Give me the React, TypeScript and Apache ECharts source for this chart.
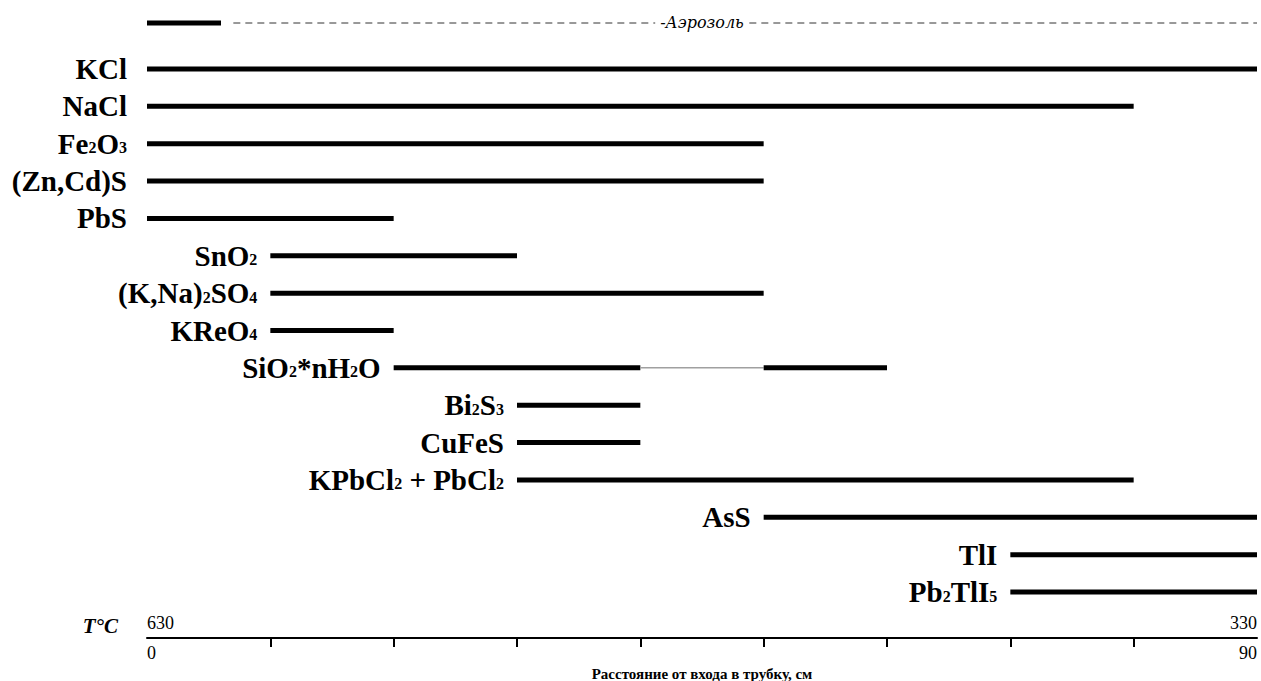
import React, { useEffect, useRef } from 'react';
import * as echarts from 'echarts';

const minerals = ['KCl', 'NaCl', 'Fe2O3', '(Zn,Cd)S', 'PbS', 'SnO2', '(K,Na)2SO4', 'KReO4', 'SiO2*nH2O', 'Bi2S3', 'CuFeS', 'KPbCl2 + PbCl2', 'AsS', 'TlI', 'Pb2TlI5'];
const mineralLabels = ['KCl', 'NaCl', 'Fe{s|2}O{s|3}', '(Zn,Cd)S', 'PbS', 'SnO{s|2}', '(K,Na){s|2}SO{s|4}', 'KReO{s|4}', 'SiO{s|2}*nH{s|2}O', 'Bi{s|2}S{s|3}', 'CuFeS', 'KPbCl{s|2} + PbCl{s|2}', 'AsS', 'TlI', 'Pb{s|2}TlI{s|5}'];
const startCm = [0, 0, 0, 0, 0, 10, 10, 10, 20, 30, 30, 30, 50, 70, 70];
const endCm = [90, 80, 50, 50, 20, 30, 50, 20, 60, 40, 40, 80, 90, 90, 90];
// weak (thin) interval inside a mineral range
const gapMineral = [8];
const gapStart = [40];
const gapEnd = [50];

const aerosolName = 'Аэрозоль';
const aerosolSolid = [0, 6];
const aerosolDashed = [7, 90];
const aerosolLabelAt = 45;

const distanceTicks = [10, 20, 30, 40, 50, 60, 70, 80];
const distanceLabels = [0, 90];
const temperatureLabels = [630, 330];
const axisTitle = 'Расстояние от входа в трубку, см';

const SERIF = '"Liberation Serif", "Times New Roman", serif';

export default function App() {
  const ref = useRef<HTMLDivElement>(null);
  useEffect(() => {
    if (!ref.current) return;
    const chart = echarts.init(ref.current, undefined, { renderer: 'svg' });

    const segments: number[][] = [];
    minerals.forEach((_, i) => {
      const g = gapMineral.indexOf(i);
      if (g >= 0) {
        segments.push([i, startCm[i], gapStart[g], 0, 1]);
        segments.push([i, gapStart[g], gapEnd[g], 1, 0]);
        segments.push([i, gapEnd[g], endCm[i], 0, 0]);
      } else {
        segments.push([i, startCm[i], endCm[i], 0, 1]);
      }
    });

    const aerosolData = [
      [0, aerosolSolid[0], aerosolSolid[1], 0],
      [0, aerosolDashed[0], aerosolDashed[1], 2],
      [0, aerosolLabelAt, aerosolLabelAt, 3],
    ];

    const option: any = {
      animation: false,
      backgroundColor: '#fff',
      grid: [
        { left: 147, right: 4, top: 11, height: 24, outerBoundsMode: 'none', containLabel: false },
        { left: 147, right: 4, top: 50.3, bottom: 70.3, outerBoundsMode: 'none', containLabel: false },
      ],
      xAxis: [
        { gridIndex: 0, type: 'value', min: 0, max: 90, show: false },
        {
          gridIndex: 1, type: 'value', min: 0, max: 90, position: 'bottom', offset: 27.3,
          splitLine: { show: false },
          axisLine: { show: true, lineStyle: { color: '#000', width: 2 } },
          axisTick: { show: true, customValues: distanceTicks, length: 9, lineStyle: { color: '#000', width: 2 } },
          axisLabel: {
            customValues: distanceLabels, margin: 6, color: '#000', fontSize: 18, fontFamily: SERIF,
            alignMinLabel: 'left', alignMaxLabel: 'right',
          },
          name: axisTitle, nameLocation: 'middle', nameGap: 24,
          nameTextStyle: { color: '#000', fontSize: 15, fontWeight: 'bold', fontFamily: SERIF },
        },
        {
          gridIndex: 1, type: 'value', min: 0, max: 90, position: 'bottom', offset: 27.3,
          splitLine: { show: false },
          axisLine: { show: false }, axisTick: { show: false },
          axisLabel: {
            inside: true, customValues: distanceLabels, margin: 6, color: '#000', fontSize: 18, fontFamily: SERIF,
            alignMinLabel: 'left', alignMaxLabel: 'right',
            formatter: (v: number) => String(temperatureLabels[distanceLabels.indexOf(v)]),
          },
        },
      ],
      yAxis: [
        { gridIndex: 0, type: 'category', data: [aerosolName], show: false },
        { gridIndex: 1, type: 'category', data: minerals, inverse: true, show: false },
      ],
      graphic: [
        {
          type: 'text', x: 118, y: 626,
          style: { text: 'T°C', align: 'right', verticalAlign: 'middle', fill: '#000', fontSize: 21, fontWeight: 'bold', fontStyle: 'italic', fontFamily: SERIF },
        },
      ],
      series: [
        {
          type: 'custom', xAxisIndex: 0, yAxisIndex: 0, clip: false,
          encode: { x: [1, 2], y: 0 },
          data: aerosolData,
          renderItem: (params: any, api: any) => {
            const s = api.value(1), e = api.value(2), kind = api.value(3);
            const p1 = api.coord([s, 0]);
            const p2 = api.coord([e, 0]);
            if (kind === 3) {
              return {
                type: 'text',
                style: {
                  text: '-' + aerosolName, x: p1[0], y: p1[1] - 1, align: 'center', verticalAlign: 'middle',
                  fill: '#000', fontSize: 16, fontStyle: 'italic', fontFamily: '"DejaVu Serif", serif',
                  backgroundColor: '#fff', padding: [0, 5],
                },
              };
            }
            return {
              type: 'line',
              shape: { x1: p1[0], y1: p1[1], x2: p2[0], y2: p2[1] },
              style: kind === 2
                ? { stroke: '#333', lineWidth: 1, lineDash: [7, 5] }
                : { stroke: '#000', lineWidth: 5 },
            };
          },
        },
        {
          type: 'custom', xAxisIndex: 1, yAxisIndex: 1, clip: false,
          encode: { x: [1, 2], y: 0 },
          data: segments,
          renderItem: (params: any, api: any) => {
            const row = api.value(0), s = api.value(1), e = api.value(2), kind = api.value(3), lab = api.value(4);
            const p1 = api.coord([s, row]);
            const p2 = api.coord([e, row]);
            const children: any[] = [
              {
                type: 'line',
                shape: { x1: p1[0], y1: p1[1], x2: p2[0], y2: p2[1] },
                style: kind ? { stroke: '#a0a0a0', lineWidth: 1.5 } : { stroke: '#000', lineWidth: 5 },
              },
            ];
            if (lab) {
              children.push({
                type: 'text',
                style: {
                  text: mineralLabels[row], x: p1[0] - (s === 0 ? 20 : 13), y: p1[1],
                  align: 'right', verticalAlign: 'middle', fill: '#000',
                  fontSize: 29, fontWeight: 'bold', fontFamily: SERIF, lineHeight: 30,
                  rich: {
                    s: { fontSize: 16, fontWeight: 'bold', fontFamily: SERIF, verticalAlign: 'bottom', padding: [0, 0, 3, 0], fill: '#000' },
                  },
                },
              });
            }
            return { type: 'group', children };
          },
        },
      ],
    };
    chart.setOption(option);
    return () => chart.dispose();
  }, []);
  return <div ref={ref} style={{ position: 'fixed', left: 0, top: 0, width: 1261, height: 681 }} />;
}
